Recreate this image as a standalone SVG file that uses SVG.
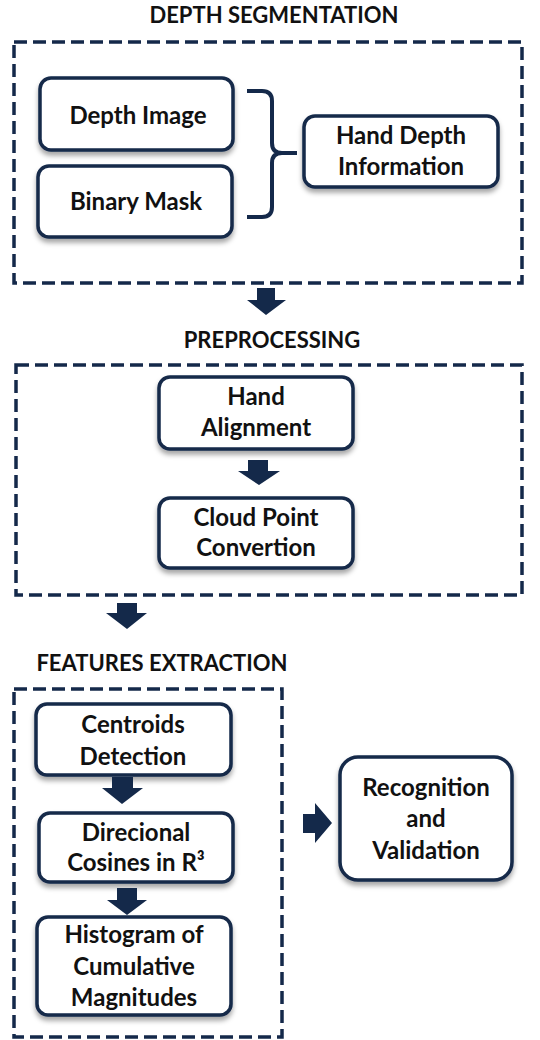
<svg xmlns="http://www.w3.org/2000/svg" width="540" height="1040" viewBox="0 0 540 1040">
<style>
.title{font-family:Lato,"Liberation Sans",sans-serif;font-weight:bold;font-size:22px;fill:#111;text-anchor:middle}
.lbl{font-family:Lato,"Liberation Sans",sans-serif;font-weight:bold;font-size:24px;fill:#111;text-anchor:middle}
.box{fill:#fff;stroke:#14294a;stroke-width:3.5;filter:url(#sh)}
.dash{fill:none;stroke:#14294a;stroke-width:3.5;stroke-dasharray:13 6}
.arr{fill:#14294a}
</style>
<defs>
<filter id="sh" x="-20%" y="-20%" width="140%" height="150%">
<feDropShadow dx="0" dy="4" stdDeviation="2.5" flood-color="#000" flood-opacity="0.35"/>
</filter>
</defs>
<rect width="540" height="1040" fill="#fff"/>

<g id="group-depth">
<text class="title" x="274" y="23">DEPTH SEGMENTATION</text>
<rect class="dash" x="14" y="42" width="508" height="241"/>
</g>
<g id="group-pre">
<text class="title" x="272" y="348">PREPROCESSING</text>
<rect class="dash" x="16" y="365" width="506" height="230"/>
</g>
<g id="group-feat">
<text class="title" x="162" y="671">FEATURES EXTRACTION</text>
<rect class="dash" x="14" y="689" width="268" height="348"/>
</g>

<g id="node-depth-image">
<rect class="box" x="40" y="78" width="193" height="72" rx="11"/>
<text class="lbl" x="138" y="124">Depth Image</text>
</g>
<g id="node-binary-mask">
<rect class="box" x="38" y="166" width="194" height="71" rx="11"/>
<text class="lbl" x="136" y="210">Binary Mask</text>
</g>
<g id="node-hand-depth">
<rect class="box" x="304" y="116" width="194" height="71" rx="11"/>
<text class="lbl" x="401" y="144">Hand Depth</text>
<text class="lbl" x="401" y="175">Information</text>
</g>
<g id="node-hand-alignment">
<rect class="box" x="159" y="377" width="194" height="72" rx="11"/>
<text class="lbl" x="256" y="405">Hand</text>
<text class="lbl" x="256" y="436">Alignment</text>
</g>
<g id="node-cloud-point">
<rect class="box" x="159" y="498" width="194" height="70" rx="11"/>
<text class="lbl" x="256" y="526">Cloud Point</text>
<text class="lbl" x="256" y="556">Convertion</text>
</g>
<g id="node-centroids">
<rect class="box" x="36" y="704" width="195" height="71" rx="11"/>
<text class="lbl" x="133" y="733">Centroids</text>
<text class="lbl" x="133" y="765">Detection</text>
</g>
<g id="node-direcional">
<rect class="box" x="39" y="813" width="194" height="69" rx="11"/>
<text class="lbl" x="136" y="841">Direcional</text>
<text class="lbl" x="136" y="871">Cosines in R³</text>
</g>
<g id="node-histogram">
<rect class="box" x="37" y="917" width="194" height="98" rx="11"/>
<text class="lbl" x="134" y="943">Histogram of</text>
<text class="lbl" x="134" y="975">Cumulative</text>
<text class="lbl" x="134" y="1006">Magnitudes</text>
</g>
<g id="node-recognition">
<rect class="box" x="340" y="757" width="172" height="123" rx="18"/>
<text class="lbl" x="426" y="796">Recognition</text>
<text class="lbl" x="426" y="827">and</text>
<text class="lbl" x="426" y="859">Validation</text>
</g>

<g id="connectors">
<path d="M247,91 L262,91 Q272,91 272,101 L272,143 Q272,153 282,153 L297,153 M282,153 Q272,153 272,163 L272,207 Q272,217 262,217 L247,217" fill="none" stroke="#14294a" stroke-width="4"/>
<polygon class="arr" points="257,288 275,288 275,300 286,300 266,315 247,300 257,300"/>
<polygon class="arr" points="248,460 268,460 268,471 280,471 259,485 238,471 248,471"/>
<polygon class="arr" points="117,603 137,603 137,613 147,613 127,629 106,613 117,613"/>
<polygon class="arr" points="112,777 133,777 133,788 143,788 122,804 102,788 112,788"/>
<polygon class="arr" points="117,888 137,888 137,900 147,900 127,915 107,900 117,900"/>
<polygon class="arr" points="303,814 315,814 315,803 332,823 315,843 315,833 303,833"/>
</g>
</svg>
